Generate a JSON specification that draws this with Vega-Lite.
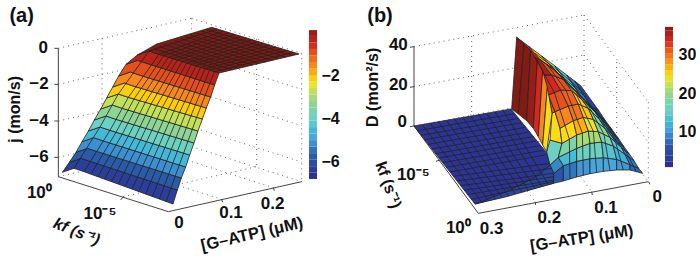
{"$schema":"https://vega.github.io/schema/vega-lite/v6.json","padding":0,"spacing":0,"bounds":"flush","resolve":{"scale":{"fill":"independent","color":"independent"}},"config":{"view":{"stroke":null},"text":{"font":"Liberation Sans","fontWeight":"bold","fontSize":17,"color":"#111","align":"center","baseline":"middle"}},
"hconcat":[
{"width":309,"height":261,
"encoding":{"x":{"field":"x","type":"quantitative","axis":null,"scale":{"domain":[0,927],"nice":false,"zero":false}},"y":{"field":"y","type":"quantitative","axis":null,"scale":{"domain":[783,0],"nice":false,"zero":false}}},
"layer":[
{"data":{"values":[{"l":0,"x":175,"y":145},{"l":0,"x":575,"y":55},{"l":1,"x":175,"y":253},{"l":1,"x":575,"y":163},{"l":2,"x":175,"y":363},{"l":2,"x":575,"y":272},{"l":3,"x":175,"y":472},{"l":3,"x":575,"y":381},{"l":4,"x":306,"y":115},{"l":4,"x":306,"y":500},{"l":5,"x":575,"y":55},{"l":5,"x":905,"y":160},{"l":6,"x":575,"y":163},{"l":6,"x":905,"y":268},{"l":7,"x":575,"y":272},{"l":7,"x":905,"y":377},{"l":8,"x":575,"y":381},{"l":8,"x":905,"y":486},{"l":9,"x":905,"y":160},{"l":9,"x":905,"y":545},{"l":10,"x":770,"y":117},{"l":10,"x":770,"y":500},{"l":11,"x":175,"y":530},{"l":11,"x":575,"y":440},{"l":12,"x":575,"y":440},{"l":12,"x":905,"y":545},{"l":13,"x":665,"y":598},{"l":13,"x":335,"y":493},{"l":14,"x":820,"y":563},{"l":14,"x":490,"y":458},{"l":15,"x":370,"y":590},{"l":15,"x":770,"y":500},{"l":16,"x":575,"y":55},{"l":16,"x":575,"y":440}]},
"mark":{"type":"line","stroke":"#666","strokeWidth":1,"strokeDash":[1,4]},"encoding":{"detail":{"field":"l"}}},
{"data":{"values":[{"l":0,"x":175,"y":145},{"l":0,"x":175,"y":530},{"l":0,"x":505,"y":635},{"l":0,"x":905,"y":545},{"l":1,"x":175,"y":145},{"l":1,"x":163,"y":145},{"l":2,"x":175,"y":253},{"l":2,"x":163,"y":253},{"l":3,"x":175,"y":363},{"l":3,"x":163,"y":363},{"l":4,"x":175,"y":472},{"l":4,"x":163,"y":472},{"l":5,"x":370,"y":590},{"l":5,"x":362,"y":600},{"l":6,"x":665,"y":598},{"l":6,"x":668,"y":607},{"l":7,"x":820,"y":563},{"l":7,"x":823,"y":572}]},
"mark":{"type":"line","stroke":"#444","strokeWidth":1},"encoding":{"detail":{"field":"l"}}},
{"data":{"values":[
{"c":0,"v":-6.5,"x":187,"y":517},{"c":0,"v":-6.5,"x":222,"y":505},{"c":0,"v":-6.5,"x":252,"y":515},{"c":0,"v":-6.5,"x":519,"y":612},{"c":0,"v":-6.5,"x":532,"y":570},{"c":0,"v":-6.5,"x":273,"y":485},{"c":0,"v":-6.5,"x":243,"y":475},{"c":0,"v":-6.5,"x":208,"y":487},
{"c":1,"v":-5.9,"x":208,"y":487},{"c":1,"v":-5.9,"x":243,"y":475},{"c":1,"v":-5.9,"x":273,"y":485},{"c":1,"v":-5.9,"x":532,"y":570},{"c":1,"v":-5.9,"x":544,"y":534},{"c":1,"v":-5.9,"x":293,"y":455},{"c":1,"v":-5.9,"x":263,"y":445},{"c":1,"v":-5.9,"x":228,"y":457},
{"c":2,"v":-5.3,"x":228,"y":457},{"c":2,"v":-5.3,"x":263,"y":445},{"c":2,"v":-5.3,"x":293,"y":455},{"c":2,"v":-5.3,"x":544,"y":534},{"c":2,"v":-5.3,"x":557,"y":501},{"c":2,"v":-5.3,"x":311,"y":423},{"c":2,"v":-5.3,"x":281,"y":413},{"c":2,"v":-5.3,"x":246,"y":425},
{"c":3,"v":-4.7,"x":246,"y":425},{"c":3,"v":-4.7,"x":281,"y":413},{"c":3,"v":-4.7,"x":311,"y":423},{"c":3,"v":-4.7,"x":557,"y":501},{"c":3,"v":-4.7,"x":569,"y":465},{"c":3,"v":-4.7,"x":330,"y":391},{"c":3,"v":-4.7,"x":300,"y":381},{"c":3,"v":-4.7,"x":265,"y":393},
{"c":4,"v":-4.1,"x":265,"y":393},{"c":4,"v":-4.1,"x":300,"y":381},{"c":4,"v":-4.1,"x":330,"y":391},{"c":4,"v":-4.1,"x":569,"y":465},{"c":4,"v":-4.1,"x":582,"y":429},{"c":4,"v":-4.1,"x":348,"y":358},{"c":4,"v":-4.1,"x":318,"y":348},{"c":4,"v":-4.1,"x":283,"y":360},
{"c":5,"v":-3.5,"x":283,"y":360},{"c":5,"v":-3.5,"x":318,"y":348},{"c":5,"v":-3.5,"x":348,"y":358},{"c":5,"v":-3.5,"x":582,"y":429},{"c":5,"v":-3.5,"x":594,"y":393},{"c":5,"v":-3.5,"x":367,"y":325},{"c":5,"v":-3.5,"x":337,"y":315},{"c":5,"v":-3.5,"x":302,"y":327},
{"c":6,"v":-2.9,"x":302,"y":327},{"c":6,"v":-2.9,"x":337,"y":315},{"c":6,"v":-2.9,"x":367,"y":325},{"c":6,"v":-2.9,"x":594,"y":393},{"c":6,"v":-2.9,"x":607,"y":357},{"c":6,"v":-2.9,"x":385,"y":292},{"c":6,"v":-2.9,"x":355,"y":282},{"c":6,"v":-2.9,"x":320,"y":294},
{"c":7,"v":-2.3,"x":320,"y":294},{"c":7,"v":-2.3,"x":355,"y":282},{"c":7,"v":-2.3,"x":385,"y":292},{"c":7,"v":-2.3,"x":607,"y":357},{"c":7,"v":-2.3,"x":619,"y":324},{"c":7,"v":-2.3,"x":403,"y":259},{"c":7,"v":-2.3,"x":373,"y":249},{"c":7,"v":-2.3,"x":338,"y":261},
{"c":8,"v":-1.7,"x":338,"y":261},{"c":8,"v":-1.7,"x":373,"y":249},{"c":8,"v":-1.7,"x":403,"y":259},{"c":8,"v":-1.7,"x":619,"y":324},{"c":8,"v":-1.7,"x":632,"y":291},{"c":8,"v":-1.7,"x":421,"y":226},{"c":8,"v":-1.7,"x":391,"y":216},{"c":8,"v":-1.7,"x":356,"y":228},
{"c":9,"v":-1.1,"x":356,"y":228},{"c":9,"v":-1.1,"x":391,"y":216},{"c":9,"v":-1.1,"x":421,"y":226},{"c":9,"v":-1.1,"x":632,"y":291},{"c":9,"v":-1.1,"x":644,"y":255},{"c":9,"v":-1.1,"x":443,"y":191},{"c":9,"v":-1.1,"x":413,"y":181},{"c":9,"v":-1.1,"x":378,"y":193},
{"c":10,"v":-0.5,"x":378,"y":193},{"c":10,"v":-0.5,"x":413,"y":181},{"c":10,"v":-0.5,"x":443,"y":191},{"c":10,"v":-0.5,"x":644,"y":255},{"c":10,"v":-0.5,"x":657,"y":219},{"c":10,"v":-0.5,"x":477,"y":163},{"c":10,"v":-0.5,"x":447,"y":153},{"c":10,"v":-0.5,"x":412,"y":165},
{"c":11,"v":0,"x":412,"y":165},{"c":11,"v":0,"x":447,"y":153},{"c":11,"v":0,"x":477,"y":163},{"c":11,"v":0,"x":657,"y":219},{"c":11,"v":0,"x":897,"y":162},{"c":11,"v":0,"x":635,"y":82},{"c":11,"v":0,"x":470,"y":132},{"c":11,"v":0,"x":430,"y":155}
]},
"transform":[{"window":[{"op":"row_number","as":"o"}]}],
"mark":{"type":"line","stroke":"#222","strokeWidth":0.8,"interpolate":"linear-closed"},
"encoding":{"detail":{"field":"c"},"order":{"field":"o","type":"quantitative"},"fill":{"field":"v","type":"quantitative","legend":null,"scale":{"zero":false,"domain":[-6.79,-5.9325,-5.075,-4.2175,-3.36,-2.5025,-1.645,-0.7875,0.07],"range":["#2e3192","#2b57a7","#4aa3dc","#6dcfc9","#9bd48a","#fbe31a","#f58220","#d8281e","#7a1a12"]}}}},
{"data":{"values":[
{"l":1,"x":463,"y":146},{"l":1,"x":677,"y":214},{"l":2,"x":478,"y":140},{"l":2,"x":697,"y":209},{"l":3,"x":494,"y":134},{"l":3,"x":717,"y":205},{"l":4,"x":510,"y":128},{"l":4,"x":737,"y":200},{"l":5,"x":525,"y":122},{"l":5,"x":757,"y":195},{"l":6,"x":541,"y":116},{"l":6,"x":777,"y":190},{"l":7,"x":557,"y":110},{"l":7,"x":797,"y":186},{"l":8,"x":572,"y":105},{"l":8,"x":817,"y":181},{"l":9,"x":588,"y":99},{"l":9,"x":837,"y":176},{"l":10,"x":604,"y":93},{"l":10,"x":857,"y":171},{"l":11,"x":619,"y":88},{"l":11,"x":877,"y":167},
{"l":20,"x":222,"y":505},{"l":20,"x":300,"y":381},{"l":20,"x":355,"y":282},{"l":20,"x":447,"y":153},{"l":20,"x":652,"y":87},
{"l":21,"x":252,"y":515},{"l":21,"x":330,"y":391},{"l":21,"x":385,"y":292},{"l":21,"x":477,"y":163},{"l":21,"x":670,"y":93},
{"l":22,"x":273,"y":522},{"l":22,"x":348,"y":397},{"l":22,"x":402,"y":297},{"l":22,"x":491,"y":167},{"l":22,"x":687,"y":98},
{"l":23,"x":293,"y":530},{"l":23,"x":367,"y":402},{"l":23,"x":419,"y":302},{"l":23,"x":505,"y":172},{"l":23,"x":705,"y":103},
{"l":24,"x":314,"y":537},{"l":24,"x":385,"y":408},{"l":24,"x":436,"y":307},{"l":24,"x":519,"y":176},{"l":24,"x":722,"y":109},
{"l":25,"x":334,"y":545},{"l":25,"x":404,"y":414},{"l":25,"x":453,"y":312},{"l":25,"x":532,"y":180},{"l":25,"x":740,"y":114},
{"l":26,"x":355,"y":552},{"l":26,"x":422,"y":419},{"l":26,"x":470,"y":317},{"l":26,"x":546,"y":185},{"l":26,"x":757,"y":119},
{"l":27,"x":375,"y":560},{"l":27,"x":440,"y":425},{"l":27,"x":487,"y":322},{"l":27,"x":560,"y":189},{"l":27,"x":775,"y":125},
{"l":28,"x":396,"y":567},{"l":28,"x":459,"y":431},{"l":28,"x":505,"y":327},{"l":28,"x":574,"y":193},{"l":28,"x":792,"y":130},
{"l":29,"x":416,"y":575},{"l":29,"x":477,"y":437},{"l":29,"x":522,"y":332},{"l":29,"x":588,"y":197},{"l":29,"x":810,"y":135},
{"l":30,"x":437,"y":582},{"l":30,"x":495,"y":442},{"l":30,"x":539,"y":337},{"l":30,"x":602,"y":202},{"l":30,"x":827,"y":141},
{"l":31,"x":457,"y":590},{"l":31,"x":514,"y":448},{"l":31,"x":556,"y":342},{"l":31,"x":615,"y":206},{"l":31,"x":845,"y":146},
{"l":32,"x":478,"y":597},{"l":32,"x":532,"y":454},{"l":32,"x":573,"y":347},{"l":32,"x":629,"y":210},{"l":32,"x":862,"y":151},
{"l":33,"x":498,"y":605},{"l":33,"x":551,"y":459},{"l":33,"x":590,"y":352},{"l":33,"x":643,"y":215},{"l":33,"x":880,"y":157}
]},
"mark":{"type":"line","stroke":"#222","strokeWidth":0.8},"encoding":{"detail":{"field":"l"}}},
{"data":{"values":[{"x":130,"y":143,"t":"0"},{"x":117,"y":253,"t":"−2"},{"x":117,"y":363,"t":"−4"},{"x":117,"y":472,"t":"−6"},{"x":118,"y":578,"t":"10⁰"},{"x":300,"y":642,"t":"10⁻⁵"},{"x":537,"y":670,"t":"0"},{"x":693,"y":640,"t":"0.1"},{"x":818,"y":612,"t":"0.2"}]},"mark":{"type":"text"},"encoding":{"text":{"field":"t"}}},
{"data":{"values":[{"x":65,"y":47,"t":"(a)"}]},"mark":{"type":"text","fontSize":20},"encoding":{"text":{"field":"t"}}},
{"data":{"values":[{"x":45,"y":328,"t":"j (mon/s)"}]},"mark":{"type":"text","angle":270,"fontSize":16},"encoding":{"text":{"field":"t"}}},
{"data":{"values":[{"x":230,"y":695,"t":"kf (s⁻¹)"}]},"mark":{"type":"text","angle":22,"fontSize":16,"fontStyle":"italic"},"encoding":{"text":{"field":"t"}}},
{"data":{"values":[{"x":756,"y":703,"t":"[G–ATP] (μM)"}]},"mark":{"type":"text","angle":347,"fontSize":16.5},"encoding":{"text":{"field":"t"}}}
]},
{"width":8,"height":261,
"data":{"values":[{"a":-6.79,"b":-6.5},{"a":-6.5,"b":-6.2},{"a":-6.2,"b":-5.9},{"a":-5.9,"b":-5.6},{"a":-5.6,"b":-5.3},{"a":-5.3,"b":-5},{"a":-5,"b":-4.7},{"a":-4.7,"b":-4.4},{"a":-4.4,"b":-4.1},{"a":-4.1,"b":-3.8},{"a":-3.8,"b":-3.5},{"a":-3.5,"b":-3.2},{"a":-3.2,"b":-2.9},{"a":-2.9,"b":-2.6},{"a":-2.6,"b":-2.3},{"a":-2.3,"b":-2},{"a":-2,"b":-1.7},{"a":-1.7,"b":-1.4},{"a":-1.4,"b":-1.1},{"a":-1.1,"b":-0.8},{"a":-0.8,"b":-0.5},{"a":-0.5,"b":-0.2},{"a":-0.2,"b":0.07}]},
"mark":{"type":"rect"},
"encoding":{"y":{"field":"a","type":"quantitative","scale":{"domain":[-10.57,1.456],"nice":false,"zero":false},"axis":{"orient":"right","values":[-6,-4,-2],"title":null,"domain":false,"ticks":false,"grid":false,"labelPadding":4,"labelFontSize":16,"labelFont":"Liberation Sans","labelFontWeight":"bold","labelColor":"#111","format":"d"}},"y2":{"field":"b"},
"color":{"field":"a","type":"quantitative","legend":null,"scale":{"zero":false,"domain":[-6.79,-5.9325,-5.075,-4.2175,-3.36,-2.5025,-1.645,-0.7875,0.07],"range":["#2e3192","#2b57a7","#4aa3dc","#6dcfc9","#9bd48a","#fbe31a","#f58220","#d8281e","#7a1a12"]}}}},
{"width":348,"height":261,
"encoding":{"x":{"field":"x","type":"quantitative","axis":null,"scale":{"domain":[-99,945],"nice":false,"zero":false}},"y":{"field":"y","type":"quantitative","axis":null,"scale":{"domain":[783,0],"nice":false,"zero":false}}},
"layer":[
{"data":{"values":[{"l":0,"x":192,"y":140},{"l":0,"x":702,"y":45},{"l":1,"x":192,"y":260},{"l":1,"x":702,"y":165},{"l":2,"x":702,"y":45},{"l":2,"x":895,"y":307},{"l":3,"x":702,"y":165},{"l":3,"x":895,"y":427},{"l":4,"x":702,"y":283},{"l":4,"x":895,"y":545},{"l":5,"x":895,"y":307},{"l":5,"x":895,"y":545},{"l":6,"x":702,"y":45},{"l":6,"x":702,"y":283},{"l":7,"x":365,"y":108},{"l":7,"x":365,"y":346},{"l":8,"x":800,"y":186},{"l":8,"x":800,"y":420},{"l":9,"x":192,"y":378},{"l":9,"x":702,"y":283},{"l":10,"x":725,"y":575},{"l":10,"x":532,"y":313},{"l":11,"x":555,"y":605},{"l":11,"x":362,"y":343},{"l":12,"x":270,"y":480},{"l":12,"x":780,"y":385}]},
"mark":{"type":"line","stroke":"#666","strokeWidth":1,"strokeDash":[1,4]},"encoding":{"detail":{"field":"l"}}},
{"data":{"values":[{"l":0,"x":192,"y":140},{"l":0,"x":192,"y":378},{"l":0,"x":385,"y":640},{"l":0,"x":895,"y":545},{"l":1,"x":192,"y":140},{"l":1,"x":180,"y":142},{"l":2,"x":192,"y":260},{"l":2,"x":180,"y":262},{"l":3,"x":192,"y":378},{"l":3,"x":180,"y":380},{"l":4,"x":270,"y":480},{"l":4,"x":258,"y":484},{"l":5,"x":725,"y":575},{"l":5,"x":727,"y":585},{"l":6,"x":555,"y":605},{"l":6,"x":557,"y":615},{"l":7,"x":895,"y":545},{"l":7,"x":900,"y":553}]},
"mark":{"type":"line","stroke":"#444","strokeWidth":1},"encoding":{"detail":{"field":"l"}}},
{"data":{"values":[
{"c":0,"v":0.9,"x":192,"y":378},{"c":0,"v":0.9,"x":483,"y":327},{"c":0,"v":0.9,"x":590,"y":458},{"c":0,"v":0.9,"x":600,"y":495},{"c":0,"v":0.9,"x":610,"y":550},{"c":0,"v":0.9,"x":375,"y":612},
{"c":1,"v":3,"x":470,"y":575},{"c":1,"v":3,"x":560,"y":530},{"c":1,"v":3,"x":600,"y":495},{"c":1,"v":3,"x":612,"y":520},{"c":1,"v":3,"x":610,"y":550},{"c":1,"v":3,"x":470,"y":590},{"c":1,"v":3,"x":375,"y":612},
{"c":2,"v":5,"x":610,"y":550},{"c":2,"v":5,"x":640,"y":543},{"c":2,"v":5,"x":640,"y":497},{"c":2,"v":5,"x":612,"y":520},
{"c":3,"v":8,"x":612,"y":520},{"c":3,"v":8,"x":640,"y":497},{"c":3,"v":8,"x":625,"y":472},{"c":3,"v":8,"x":600,"y":495},
{"c":4,"v":15,"x":590,"y":455},{"c":4,"v":15,"x":600,"y":420},{"c":4,"v":15,"x":636,"y":430},{"c":4,"v":15,"x":625,"y":472},{"c":4,"v":15,"x":600,"y":495},
{"c":5,"v":24,"x":600,"y":420},{"c":5,"v":24,"x":606,"y":340},{"c":5,"v":24,"x":615,"y":335},{"c":5,"v":24,"x":630,"y":385},{"c":5,"v":24,"x":636,"y":430},
{"c":6,"v":31,"x":592,"y":262},{"c":6,"v":31,"x":606,"y":340},{"c":6,"v":31,"x":615,"y":335},{"c":6,"v":31,"x":595,"y":285},{"c":6,"v":31,"x":570,"y":225},
{"c":10,"v":7,"x":640,"y":543},{"c":10,"v":7,"x":680,"y":531},{"c":10,"v":7,"x":680,"y":484},{"c":10,"v":7,"x":640,"y":497},
{"c":11,"v":9,"x":680,"y":531},{"c":11,"v":9,"x":720,"y":521},{"c":11,"v":9,"x":720,"y":476},{"c":11,"v":9,"x":680,"y":484},
{"c":12,"v":10,"x":720,"y":521},{"c":12,"v":10,"x":760,"y":514},{"c":12,"v":10,"x":760,"y":473},{"c":12,"v":10,"x":720,"y":476},
{"c":13,"v":10,"x":760,"y":514},{"c":13,"v":10,"x":800,"y":510},{"c":13,"v":10,"x":800,"y":478},{"c":13,"v":10,"x":760,"y":473},
{"c":14,"v":9,"x":800,"y":510},{"c":14,"v":9,"x":840,"y":510},{"c":14,"v":9,"x":840,"y":494},{"c":14,"v":9,"x":800,"y":478},
{"c":15,"v":6,"x":840,"y":510},{"c":15,"v":6,"x":878,"y":520},{"c":15,"v":6,"x":866,"y":505},{"c":15,"v":6,"x":840,"y":494},
{"c":20,"v":12,"x":640,"y":497},{"c":20,"v":12,"x":680,"y":484},{"c":20,"v":12,"x":680,"y":445},{"c":20,"v":12,"x":625,"y":472},
{"c":21,"v":15,"x":680,"y":484},{"c":21,"v":15,"x":720,"y":476},{"c":21,"v":15,"x":720,"y":430},{"c":21,"v":15,"x":680,"y":445},
{"c":22,"v":15,"x":720,"y":476},{"c":22,"v":15,"x":760,"y":473},{"c":22,"v":15,"x":755,"y":426},{"c":22,"v":15,"x":720,"y":430},
{"c":23,"v":13,"x":760,"y":473},{"c":23,"v":13,"x":800,"y":478},{"c":23,"v":13,"x":790,"y":438},{"c":23,"v":13,"x":755,"y":426},
{"c":24,"v":11,"x":800,"y":478},{"c":24,"v":11,"x":840,"y":494},{"c":24,"v":11,"x":825,"y":463},{"c":24,"v":11,"x":790,"y":438},
{"c":25,"v":7,"x":840,"y":494},{"c":25,"v":7,"x":866,"y":505},{"c":25,"v":7,"x":852,"y":482},{"c":25,"v":7,"x":825,"y":463},
{"c":30,"v":17,"x":625,"y":472},{"c":30,"v":17,"x":680,"y":445},{"c":30,"v":17,"x":680,"y":405},{"c":30,"v":17,"x":636,"y":430},
{"c":31,"v":20,"x":680,"y":445},{"c":31,"v":20,"x":720,"y":430},{"c":31,"v":20,"x":715,"y":393},{"c":31,"v":20,"x":680,"y":405},
{"c":32,"v":20,"x":720,"y":430},{"c":32,"v":20,"x":755,"y":426},{"c":32,"v":20,"x":745,"y":395},{"c":32,"v":20,"x":715,"y":393},
{"c":33,"v":17,"x":755,"y":426},{"c":33,"v":17,"x":790,"y":438},{"c":33,"v":17,"x":780,"y":412},{"c":33,"v":17,"x":745,"y":395},
{"c":34,"v":13,"x":790,"y":438},{"c":34,"v":13,"x":825,"y":463},{"c":34,"v":13,"x":815,"y":443},{"c":34,"v":13,"x":780,"y":412},
{"c":35,"v":8,"x":825,"y":463},{"c":35,"v":8,"x":852,"y":482},{"c":35,"v":8,"x":838,"y":462},{"c":35,"v":8,"x":815,"y":443},
{"c":40,"v":24,"x":636,"y":430},{"c":40,"v":24,"x":680,"y":405},{"c":40,"v":24,"x":670,"y":362},{"c":40,"v":24,"x":630,"y":385},
{"c":41,"v":26,"x":680,"y":405},{"c":41,"v":26,"x":715,"y":393},{"c":41,"v":26,"x":700,"y":352},{"c":41,"v":26,"x":670,"y":362},
{"c":42,"v":23,"x":715,"y":393},{"c":42,"v":23,"x":745,"y":395},{"c":42,"v":23,"x":730,"y":358},{"c":42,"v":23,"x":700,"y":352},
{"c":43,"v":18,"x":745,"y":395},{"c":43,"v":18,"x":780,"y":412},{"c":43,"v":18,"x":765,"y":385},{"c":43,"v":18,"x":730,"y":358},
{"c":44,"v":13,"x":780,"y":412},{"c":44,"v":13,"x":815,"y":443},{"c":44,"v":13,"x":800,"y":425},{"c":44,"v":13,"x":765,"y":385},
{"c":45,"v":7,"x":815,"y":443},{"c":45,"v":7,"x":838,"y":462},{"c":45,"v":7,"x":822,"y":440},{"c":45,"v":7,"x":800,"y":425},
{"c":50,"v":28,"x":630,"y":385},{"c":50,"v":28,"x":670,"y":362},{"c":50,"v":28,"x":655,"y":318},{"c":50,"v":28,"x":615,"y":335},
{"c":51,"v":29,"x":670,"y":362},{"c":51,"v":29,"x":700,"y":352},{"c":51,"v":29,"x":685,"y":312},{"c":51,"v":29,"x":655,"y":318},
{"c":52,"v":25,"x":700,"y":352},{"c":52,"v":25,"x":730,"y":358},{"c":52,"v":25,"x":715,"y":325},{"c":52,"v":25,"x":685,"y":312},
{"c":53,"v":17,"x":730,"y":358},{"c":53,"v":17,"x":765,"y":385},{"c":53,"v":17,"x":750,"y":360},{"c":53,"v":17,"x":715,"y":325},
{"c":54,"v":11,"x":765,"y":385},{"c":54,"v":11,"x":800,"y":425},{"c":54,"v":11,"x":785,"y":400},{"c":54,"v":11,"x":750,"y":360},
{"c":55,"v":5,"x":800,"y":425},{"c":55,"v":5,"x":822,"y":440},{"c":55,"v":5,"x":805,"y":415},{"c":55,"v":5,"x":785,"y":400},
{"c":60,"v":31,"x":615,"y":335},{"c":60,"v":31,"x":655,"y":318},{"c":60,"v":31,"x":632,"y":270},{"c":60,"v":31,"x":595,"y":285},
{"c":61,"v":30,"x":655,"y":318},{"c":61,"v":30,"x":685,"y":312},{"c":61,"v":30,"x":665,"y":272},{"c":61,"v":30,"x":632,"y":270},
{"c":62,"v":25,"x":685,"y":312},{"c":62,"v":25,"x":715,"y":325},{"c":62,"v":25,"x":695,"y":298},{"c":62,"v":25,"x":665,"y":272},
{"c":63,"v":17,"x":715,"y":325},{"c":63,"v":17,"x":750,"y":360},{"c":63,"v":17,"x":735,"y":335},{"c":63,"v":17,"x":695,"y":298},
{"c":64,"v":10,"x":750,"y":360},{"c":64,"v":10,"x":785,"y":400},{"c":64,"v":10,"x":770,"y":375},{"c":64,"v":10,"x":735,"y":335},
{"c":65,"v":4,"x":785,"y":400},{"c":65,"v":4,"x":805,"y":415},{"c":65,"v":4,"x":787,"y":390},{"c":65,"v":4,"x":770,"y":375},
{"c":70,"v":33,"x":595,"y":285},{"c":70,"v":33,"x":632,"y":270},{"c":70,"v":33,"x":605,"y":225},{"c":70,"v":33,"x":570,"y":225},
{"c":71,"v":31,"x":632,"y":270},{"c":71,"v":31,"x":665,"y":272},{"c":71,"v":31,"x":640,"y":238},{"c":71,"v":31,"x":605,"y":225},
{"c":72,"v":24,"x":665,"y":272},{"c":72,"v":24,"x":695,"y":298},{"c":72,"v":24,"x":675,"y":272},{"c":72,"v":24,"x":640,"y":238},
{"c":73,"v":16,"x":695,"y":298},{"c":73,"v":16,"x":735,"y":335},{"c":73,"v":16,"x":715,"y":310},{"c":73,"v":16,"x":675,"y":272},
{"c":74,"v":9,"x":735,"y":335},{"c":74,"v":9,"x":770,"y":375},{"c":74,"v":9,"x":750,"y":350},{"c":74,"v":9,"x":715,"y":310},
{"c":75,"v":3,"x":770,"y":375},{"c":75,"v":3,"x":787,"y":390},{"c":75,"v":3,"x":765,"y":360},{"c":75,"v":3,"x":750,"y":350},
{"c":80,"v":35,"x":570,"y":225},{"c":80,"v":35,"x":605,"y":225},{"c":80,"v":35,"x":570,"y":180},{"c":80,"v":35,"x":540,"y":165},
{"c":81,"v":31,"x":605,"y":225},{"c":81,"v":31,"x":640,"y":238},{"c":81,"v":31,"x":610,"y":205},{"c":81,"v":31,"x":570,"y":180},
{"c":82,"v":23,"x":640,"y":238},{"c":82,"v":23,"x":675,"y":272},{"c":82,"v":23,"x":650,"y":245},{"c":82,"v":23,"x":610,"y":205},
{"c":83,"v":14,"x":675,"y":272},{"c":83,"v":14,"x":715,"y":310},{"c":83,"v":14,"x":690,"y":285},{"c":83,"v":14,"x":650,"y":245},
{"c":84,"v":8,"x":715,"y":310},{"c":84,"v":8,"x":750,"y":350},{"c":84,"v":8,"x":725,"y":322},{"c":84,"v":8,"x":690,"y":285},
{"c":85,"v":3,"x":750,"y":350},{"c":85,"v":3,"x":765,"y":360},{"c":85,"v":3,"x":745,"y":330},{"c":85,"v":3,"x":725,"y":322},
{"c":90,"v":33,"x":540,"y":165},{"c":90,"v":33,"x":570,"y":180},{"c":90,"v":33,"x":535,"y":138},{"c":90,"v":33,"x":500,"y":112},
{"c":91,"v":26,"x":570,"y":180},{"c":91,"v":26,"x":610,"y":205},{"c":91,"v":26,"x":575,"y":168},{"c":91,"v":26,"x":535,"y":138},
{"c":92,"v":20,"x":610,"y":205},{"c":92,"v":20,"x":650,"y":245},{"c":92,"v":20,"x":615,"y":198},{"c":92,"v":20,"x":575,"y":168},
{"c":93,"v":13,"x":650,"y":245},{"c":93,"v":13,"x":690,"y":285},{"c":93,"v":13,"x":650,"y":225},{"c":93,"v":13,"x":615,"y":198},
{"c":94,"v":7,"x":690,"y":285},{"c":94,"v":7,"x":725,"y":322},{"c":94,"v":7,"x":675,"y":244},{"c":94,"v":7,"x":650,"y":225},
{"c":95,"v":2,"x":725,"y":322},{"c":95,"v":2,"x":745,"y":330},{"c":95,"v":2,"x":692,"y":257},{"c":95,"v":2,"x":675,"y":244},
{"c":100,"v":37,"x":485,"y":327},{"c":100,"v":37,"x":500,"y":112},{"c":100,"v":37,"x":522,"y":132},{"c":100,"v":37,"x":505,"y":342},
{"c":101,"v":37,"x":505,"y":342},{"c":101,"v":37,"x":522,"y":132},{"c":101,"v":37,"x":542,"y":152},{"c":101,"v":37,"x":530,"y":362},
{"c":102,"v":36,"x":530,"y":362},{"c":102,"v":36,"x":542,"y":152},{"c":102,"v":36,"x":562,"y":182},{"c":102,"v":36,"x":550,"y":385},
{"c":103,"v":33,"x":550,"y":385},{"c":103,"v":33,"x":562,"y":182},{"c":103,"v":33,"x":578,"y":212},{"c":103,"v":33,"x":565,"y":410},
{"c":104,"v":28,"x":565,"y":410},{"c":104,"v":28,"x":578,"y":212},{"c":104,"v":28,"x":592,"y":262},{"c":104,"v":28,"x":578,"y":435},
{"c":105,"v":24,"x":578,"y":435},{"c":105,"v":24,"x":592,"y":262},{"c":105,"v":24,"x":606,"y":340},{"c":105,"v":24,"x":590,"y":455}
]},
"transform":[{"window":[{"op":"row_number","as":"o"}]}],
"mark":{"type":"line","stroke":"#222","strokeWidth":0.8,"interpolate":"linear-closed"},
"encoding":{"detail":{"field":"c"},"order":{"field":"o","type":"quantitative"},"fill":{"field":"v","type":"quantitative","legend":null,"scale":{"zero":false,"domain":[0.5,5.1,9.7,14.3,18.95,23.6,28.2,32.8,37.4],"range":["#2e3192","#2b57a7","#4aa3dc","#6dcfc9","#9bd48a","#fbe31a","#f58220","#d8281e","#7a1a12"]}}}},
{"data":{"values":[
{"l":1,"x":203,"y":392},{"l":1,"x":494,"y":341},{"l":2,"x":214,"y":406},{"l":2,"x":505,"y":355},{"l":3,"x":224,"y":419},{"l":3,"x":515,"y":368},{"l":4,"x":235,"y":433},{"l":4,"x":526,"y":382},{"l":5,"x":246,"y":447},{"l":5,"x":537,"y":396},{"l":6,"x":257,"y":461},{"l":6,"x":548,"y":410},{"l":7,"x":267,"y":474},{"l":7,"x":558,"y":423},{"l":8,"x":278,"y":488},{"l":8,"x":569,"y":437},{"l":9,"x":289,"y":502},{"l":9,"x":580,"y":451},{"l":10,"x":300,"y":516},{"l":10,"x":590,"y":464},{"l":11,"x":310,"y":529},{"l":11,"x":600,"y":490},{"l":12,"x":321,"y":543},{"l":12,"x":605,"y":505},{"l":13,"x":332,"y":557},{"l":13,"x":610,"y":520},{"l":14,"x":343,"y":571},{"l":14,"x":612,"y":530},{"l":15,"x":353,"y":584},{"l":15,"x":611,"y":540},{"l":16,"x":364,"y":598},{"l":16,"x":610,"y":545},
{"l":21,"x":216,"y":374},{"l":21,"x":396,"y":607},{"l":22,"x":241,"y":369},{"l":22,"x":416,"y":602},{"l":23,"x":265,"y":365},{"l":23,"x":436,"y":597},{"l":24,"x":289,"y":361},{"l":24,"x":456,"y":592},{"l":25,"x":313,"y":357},{"l":25,"x":476,"y":587},{"l":26,"x":338,"y":352},{"l":26,"x":496,"y":582},{"l":27,"x":362,"y":348},{"l":27,"x":516,"y":577},{"l":28,"x":386,"y":344},{"l":28,"x":536,"y":572},{"l":29,"x":410,"y":340},{"l":29,"x":556,"y":567},{"l":30,"x":435,"y":335},{"l":30,"x":576,"y":561},{"l":31,"x":459,"y":331},{"l":31,"x":596,"y":555},
{"l":40,"x":660,"y":537},{"l":40,"x":658,"y":417},{"l":40,"x":613,"y":277},{"l":40,"x":555,"y":172},
{"l":41,"x":700,"y":526},{"l":41,"x":697,"y":399},{"l":41,"x":648,"y":271},{"l":41,"x":590,"y":192},
{"l":42,"x":740,"y":517},{"l":42,"x":730,"y":394},{"l":42,"x":680,"y":285},{"l":42,"x":630,"y":225},
{"l":43,"x":780,"y":512},{"l":43,"x":762,"y":403},{"l":43,"x":715,"y":316},{"l":43,"x":670,"y":265},
{"l":44,"x":820,"y":510},{"l":44,"x":797,"y":427},{"l":44,"x":752,"y":355},{"l":44,"x":707,"y":303},
{"l":45,"x":859,"y":515},{"l":45,"x":826,"y":452},{"l":45,"x":778,"y":382},{"l":45,"x":735,"y":326},
{"l":50,"x":555,"y":160},{"l":50,"x":615,"y":205},{"l":50,"x":655,"y":238},{"l":50,"x":690,"y":270},
{"l":51,"x":560,"y":170},{"l":51,"x":615,"y":213},{"l":51,"x":655,"y":245},{"l":51,"x":700,"y":285}
]},
"mark":{"type":"line","stroke":"#222","strokeWidth":0.8},"encoding":{"detail":{"field":"l"}}},
{"data":{"values":[{"x":145,"y":135,"t":"40"},{"x":145,"y":255,"t":"20"},{"x":157,"y":365,"t":"0"},{"x":325,"y":685,"t":"10⁰"},{"x":190,"y":525,"t":"10⁻⁵"},{"x":922,"y":590,"t":"0"},{"x":768,"y":625,"t":"0.1"},{"x":598,"y":655,"t":"0.2"},{"x":425,"y":688,"t":"0.3"}]},"mark":{"type":"text"},"encoding":{"text":{"field":"t"}}},
{"data":{"values":[{"x":90,"y":47,"t":"(b)"}]},"mark":{"type":"text","fontSize":20},"encoding":{"text":{"field":"t"}}},
{"data":{"values":[{"x":68,"y":262,"t":"D (mon²/s)"}]},"mark":{"type":"text","angle":270,"fontSize":16},"encoding":{"text":{"field":"t"}}},
{"data":{"values":[{"x":115,"y":555,"t":"kf (s⁻¹)"}]},"mark":{"type":"text","angle":70,"fontSize":16},"encoding":{"text":{"field":"t"}}},
{"data":{"values":[{"x":695,"y":715,"t":"[G–ATP] (μM)"}]},"mark":{"type":"text","angle":351,"fontSize":16.5},"encoding":{"text":{"field":"t"}}}
]},
{"width":8,"height":261,
"data":{"values":[{"a":0.5,"b":2},{"a":2,"b":3.5},{"a":3.5,"b":5},{"a":5,"b":6.5},{"a":6.5,"b":8},{"a":8,"b":9.5},{"a":9.5,"b":11},{"a":11,"b":12.5},{"a":12.5,"b":14},{"a":14,"b":15.5},{"a":15.5,"b":17},{"a":17,"b":18.5},{"a":18.5,"b":20},{"a":20,"b":21.5},{"a":21.5,"b":23},{"a":23,"b":24.5},{"a":24.5,"b":26},{"a":26,"b":27.5},{"a":27.5,"b":29},{"a":29,"b":30.5},{"a":30.5,"b":32},{"a":32,"b":33.5},{"a":33.5,"b":35},{"a":35,"b":36.5},{"a":36.5,"b":37.4}]},
"mark":{"type":"rect"},
"encoding":{"y":{"field":"a","type":"quantitative","scale":{"domain":[-24.2,44.47],"nice":false,"zero":false},"axis":{"orient":"right","values":[10,20,30],"title":null,"domain":false,"ticks":false,"grid":false,"labelPadding":5,"labelFontSize":16,"labelFont":"Liberation Sans","labelFontWeight":"bold","labelColor":"#111","format":"d"}},"y2":{"field":"b"},
"color":{"field":"a","type":"quantitative","legend":null,"scale":{"zero":false,"domain":[0.5,5.1,9.7,14.3,18.95,23.6,28.2,32.8,37.4],"range":["#2e3192","#2b57a7","#4aa3dc","#6dcfc9","#9bd48a","#fbe31a","#f58220","#d8281e","#7a1a12"]}}}}
]}
